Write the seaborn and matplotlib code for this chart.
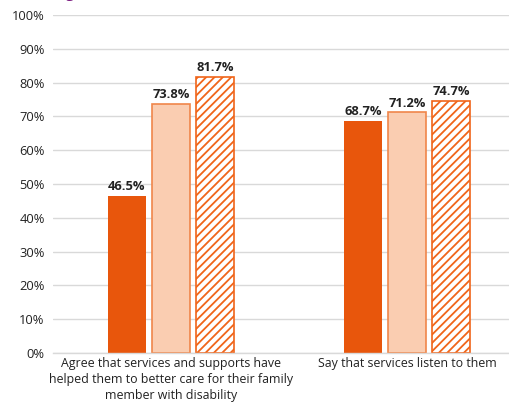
import matplotlib
matplotlib.use("Agg")
import matplotlib.pyplot as plt
import seaborn as sns
import pandas as pd

categories = [
    "Agree that services and supports have\nhelped them to better care for their family\nmember with disability",
    "Say that services listen to them",
]
series = ["Wave 1", "Wave 2", "Wave 3"]
values_wave1 = [46.5, 68.7]
values_wave2 = [73.8, 71.2]
values_wave3 = [81.7, 74.7]
y_ticks = [0, 10, 20, 30, 40, 50, 60, 70, 80, 90, 100]

df = pd.DataFrame({
    "category": categories * 3,
    "series": [s for s in series for _ in categories],
    "value": values_wave1 + values_wave2 + values_wave3,
})

sns.set_theme(style="white")
plt.rcParams["font.family"] = ["Open Sans", "DejaVu Sans"]
plt.rcParams["hatch.linewidth"] = 1.3

dark = "#E8560C"
light_fill = "#FACDB1"
light_edge = "#F0864A"
hatch_col = "#F0651A"
text_col = "#222222"

fig = plt.figure(figsize=(5.10, 4.05), dpi=100)
ax = fig.add_axes([53 / 510, 52 / 405, 457 / 510, 338 / 405])

sns.barplot(data=df, x="category", y="value", hue="series", order=categories,
            hue_order=series, palette=[dark, light_fill, "white"],
            width=0.56, gap=0.15, legend=False, ax=ax, saturation=1)

styles = [
    dict(edgecolor=dark, linewidth=0, hatch=None),
    dict(edgecolor=light_edge, linewidth=1.2, hatch=None),
    dict(edgecolor=hatch_col, linewidth=1.2, hatch="////"),
]
for container, st in zip(ax.containers, styles):
    for bar in container:
        bar.set_edgecolor(st["edgecolor"])
        bar.set_linewidth(st["linewidth"])
        if st["hatch"]:
            bar.set_hatch(st["hatch"])
    ax.bar_label(container, labels=[f"{v:.1f}%" for v in container.datavalues],
                 padding=2, fontsize=9.3, fontweight="bold", color=text_col)

ax.set_ylim(0, 100)
ax.set_xlim(-0.5, 1.436)
ax.set_yticks(y_ticks)
ax.set_yticklabels([f"{t}%" for t in y_ticks], fontsize=9.3, color=text_col)
ax.tick_params(axis="x", labelsize=8.9, colors=text_col, length=0, pad=3)
ax.tick_params(axis="y", length=0, pad=6)
ax.set_xlabel("")
ax.set_ylabel("")
ax.yaxis.grid(True, color="#D9D9D9", linewidth=1)
ax.set_axisbelow(True)
for side in ["top", "right", "left"]:
    ax.spines[side].set_visible(False)
ax.spines["bottom"].set_color("#D9D9D9")
ax.spines["bottom"].set_linewidth(1)

for lbl in ax.get_xticklabels():
    lbl.set_linespacing(1.3)

fig.text(66 / 510, 1 + 2 / 405, "g", color="#7A1A80", fontsize=10,
         fontweight="bold", va="baseline", ha="left")

fig.savefig("out.png", dpi=100)
